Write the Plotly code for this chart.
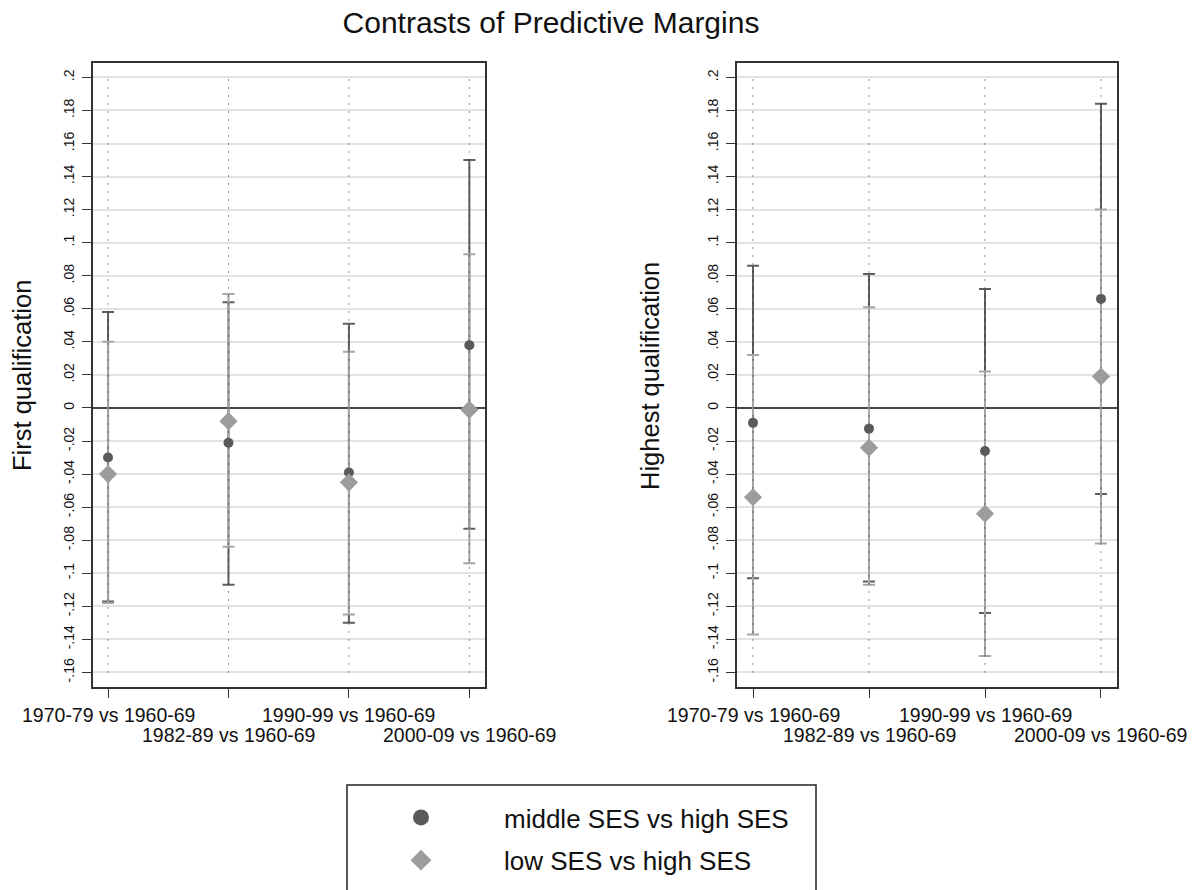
import plotly.graph_objects as go

# ---------------- data ----------------
categories = ["1970-79 vs 1960-69", "1982-89 vs 1960-69",
              "1990-99 vs 1960-69", "2000-09 vs 1960-69"]
cat_pos = [1, 2, 3, 4]

# First qualification panel
first_mid_est = [-0.030, -0.021, -0.039, 0.038]
first_mid_lo = [-0.117, -0.107, -0.130, -0.073]
first_mid_hi = [0.058, 0.064, 0.051, 0.150]
first_low_est = [-0.040, -0.008, -0.045, -0.001]
first_low_lo = [-0.118, -0.084, -0.125, -0.094]
first_low_hi = [0.040, 0.069, 0.034, 0.093]

# Highest qualification panel
high_mid_est = [-0.009, -0.0125, -0.026, 0.066]
high_mid_lo = [-0.103, -0.105, -0.124, -0.052]
high_mid_hi = [0.086, 0.081, 0.072, 0.184]
high_low_est = [-0.054, -0.024, -0.064, 0.019]
high_low_lo = [-0.137, -0.107, -0.150, -0.082]
high_low_hi = [0.032, 0.061, 0.022, 0.120]

series_names = ["middle SES vs high SES", "low SES vs high SES"]
panel_titles = ["First qualification", "Highest qualification"]
title_text = "Contrasts of Predictive Margins"

y_tickvals = [-0.16, -0.14, -0.12, -0.10, -0.08, -0.06, -0.04, -0.02, 0,
              0.02, 0.04, 0.06, 0.08, 0.10, 0.12, 0.14, 0.16, 0.18, 0.20]
y_ticktext = ["-.16", "-.14", "-.12", "-.1", "-.08", "-.06", "-.04", "-.02", "0",
              ".02", ".04", ".06", ".08", ".1", ".12", ".14", ".16", ".18", ".2"]

# ---------------- style ----------------
W, H = 1201, 890
FONT = "Liberation Sans, Arial, sans-serif"
MID_COL = "#5a5a5a"
MID_BAR = "#5e5e5e"
LOW_COL = "#9c9c9c"
LOW_BAR = "#a6a6a6"
FRAME = "#333333"


def px_x(p):
    return p / W


def px_y(p):
    return 1 - p / H


fig = go.Figure()

panels = [
    ("x", "y", first_mid_est, first_mid_lo, first_mid_hi,
     first_low_est, first_low_lo, first_low_hi),
    ("x2", "y2", high_mid_est, high_mid_lo, high_mid_hi,
     high_low_est, high_low_lo, high_low_hi),
]

for xa, ya, m_est, m_lo, m_hi, l_est, l_lo, l_hi in panels:
    # confidence intervals (caps) - middle then low
    for est, lo, hi, col in [(m_est, m_lo, m_hi, MID_BAR), (l_est, l_lo, l_hi, LOW_BAR)]:
        fig.add_trace(go.Scatter(
            x=cat_pos, y=est, mode="markers", xaxis=xa, yaxis=ya,
            marker=dict(size=1, opacity=0), showlegend=False, hoverinfo="skip",
            error_y=dict(type="data", symmetric=False,
                         array=[h - e for h, e in zip(hi, est)],
                         arrayminus=[e - l for e, l in zip(est, lo)],
                         color=col, thickness=2, width=6)))
    # dotted vertical guide lines
    for c in cat_pos:
        fig.add_trace(go.Scatter(
            x=[c, c], y=[y_tickvals[0], y_tickvals[-1]], mode="lines",
            xaxis=xa, yaxis=ya, showlegend=False, hoverinfo="skip",
            line=dict(color="#222222", width=1, dash="1px,7px")))
    # point estimates
    fig.add_trace(go.Scatter(
        x=cat_pos, y=m_est, mode="markers", xaxis=xa, yaxis=ya,
        name=series_names[0], showlegend=False,
        marker=dict(symbol="circle", size=10, color=MID_COL)))
    fig.add_trace(go.Scatter(
        x=cat_pos, y=l_est, mode="markers", xaxis=xa, yaxis=ya,
        name=series_names[1], showlegend=False,
        marker=dict(symbol="diamond", size=14, color=LOW_COL)))

# legend entries
fig.add_trace(go.Scatter(x=[None], y=[None], mode="markers", name=series_names[0],
                         legendgroup="a", marker=dict(symbol="circle", size=17, color=MID_COL)))
fig.add_trace(go.Scatter(x=[None], y=[None], mode="markers", name=series_names[1],
                         legendgroup="b", marker=dict(symbol="diamond", size=17, color=LOW_COL)))

y_top = px_y(63)
y_bot = px_y(687)
yrange = [-0.1688, 0.2087]

yaxis_common = dict(
    range=yrange, tickvals=y_tickvals, ticktext=y_ticktext, tickangle=-90,
    tickfont=dict(size=14, color="#111111", family=FONT), ticklabelstandoff=3,
    ticks="outside", ticklen=9, tickwidth=1.2, tickcolor=FRAME,
    showgrid=True, gridcolor="#e3e3e3", gridwidth=2,
    zeroline=True, zerolinecolor="#444444", zerolinewidth=1.6,
    showline=True, linecolor=FRAME, linewidth=1.5, mirror=True,
    domain=[y_bot, y_top], fixedrange=True)

xaxis_common = dict(
    tickvals=cat_pos, ticktext=categories, showticklabels=False,
    ticks="outside", ticklen=9, tickwidth=1.2, tickcolor=FRAME,
    showgrid=False, zeroline=False,
    showline=True, linecolor=FRAME, linewidth=1.5, mirror=True, fixedrange=True)

fig.update_layout(
    width=W, height=H,
    margin=dict(l=0, r=0, t=0, b=0),
    paper_bgcolor="white", plot_bgcolor="white",
    font=dict(family=FONT, color="#111111"),
    title=dict(text=title_text, x=px_x(551), xref="paper", xanchor="center",
               y=px_y(22), yref="paper", yanchor="middle",
               font=dict(size=30, family=FONT, color="#111111")),
    xaxis=dict(xaxis_common, domain=[px_x(93), px_x(485)], range=[0.875, 4.13], anchor="y"),
    yaxis=dict(yaxis_common, anchor="x"),
    xaxis2=dict(xaxis_common, domain=[px_x(737), px_x(1117)], range=[0.862, 4.138], anchor="y2"),
    yaxis2=dict(yaxis_common, anchor="x2"),
    showlegend=True,
    legend=dict(x=px_x(338), xanchor="left", y=px_y(794), yanchor="top",
                bgcolor="rgba(0,0,0,0)", borderwidth=0, itemwidth=156,
                tracegroupgap=6, traceorder="grouped",
                font=dict(size=26, family=FONT, color="#111111")),
)

# legend frame
fig.add_shape(type="rect", xref="paper", yref="paper",
              x0=px_x(347), x1=px_x(816), y0=px_y(785), y1=px_y(900),
              line=dict(color="#222222", width=1.5), fillcolor="rgba(0,0,0,0)")

# y axis titles
for xpix, txt in [(22, panel_titles[0]), (650, panel_titles[1])]:
    fig.add_annotation(text=txt, xref="paper", yref="paper", x=px_x(xpix), y=px_y(376),
                       textangle=-90, showarrow=False, xanchor="center", yanchor="middle",
                       font=dict(size=25.5, family=FONT, color="#111111"))

# staggered x tick labels
for xa in ["x", "x2"]:
    for i, (c, lab) in enumerate(zip(cat_pos, categories)):
        ypix = 715 if i % 2 == 0 else 735
        fig.add_annotation(text=lab, xref=xa, yref="paper", x=c, y=px_y(ypix),
                           showarrow=False, xanchor="center", yanchor="middle",
                           font=dict(size=19.5, family=FONT, color="#111111"))

fig.write_html("out.html", config={"displayModeBar": False},
               post_script="document.body.style.margin='0px';")
